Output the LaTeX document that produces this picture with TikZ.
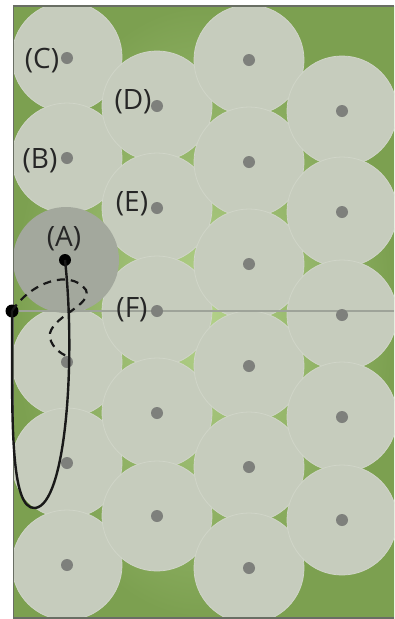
\documentclass[tikz,border=0pt]{standalone}
\usepackage{fontspec}
\setmainfont{Open Sans}
\definecolor{bgdark}{RGB}{124,160,80}
\definecolor{bglight}{RGB}{180,210,138}
\definecolor{cellfill}{RGB}{198,204,189}
\definecolor{celledge}{RGB}{208,213,200}
\definecolor{cellA}{RGB}{163,168,157}
\definecolor{dotgray}{RGB}{126,128,124}
\definecolor{framegray}{RGB}{105,110,100}
\definecolor{linegray}{RGB}{158,163,153}
\tikzset{
  cell/.style={circle, fill=cellfill, draw=celledge, line width=0.8pt, minimum size=110pt, inner sep=0pt},
  cellmain/.style={circle, fill=cellA, draw=none, minimum size=106pt, inner sep=0pt},
  site/.style={circle, fill=dotgray, minimum size=12pt, inner sep=0pt},
  sitemain/.style={circle, fill=black, minimum size=12pt, inner sep=0pt},
  anchorpt/.style={circle, fill=black, minimum size=13pt, inner sep=0pt},
  lab/.style={font=\fontsize{28}{32}\selectfont, text=black!85, inner sep=0pt},
  track/.style={line width=2.4pt, draw=black!90},
  dashtrack/.style={line width=2.2pt, draw=black!90, dash pattern=on 8pt off 6pt}
}
\begin{document}
\begin{tikzpicture}[x=1pt,y=-1pt]
\useasboundingbox (0,0) rectangle (394,619);
\fill[white] (0,0) rectangle (394,619);
\shade[inner color=bglight, outer color=bgdark] (13,6) rectangle (394,618);
% cells
\begin{scope}
\clip (13,6) rectangle (394,618);
\foreach \cx/\cy/\nm in {67/57/c1, 67/158/c2, 67/362/c4, 67/463/c5, 67/565/c6,
  157/106/c7, 157/208/c8, 157/311/c9, 157/413/c10, 157/516/c11,
  249/60/c12, 249/162/c13, 249/264/c14, 249/366/c15, 249/467/c16, 249/568/c17,
  342/111/c18, 342/212/c19, 342/315/c20, 342/417/c21, 342/520/c22}
  {\node[cell] (\nm) at (\cx,\cy) {};}
\node[cellmain] (cA) at (66,260) {};
\end{scope}
% frame lines
\draw[framegray, line width=2pt] (13,6) -- (394,6);
\draw[framegray, line width=1pt] (13,6) -- (13,618);
\draw[framegray, line width=1.5pt] (13,618) -- (394,618);
% horizontal line
\draw[linegray, line width=2pt] (13,311) -- (394,311);
% sites
\foreach \cx/\cy/\nm in {67/58/sC, 67/158/sB, 67/362/s4, 67/463/s5, 67/565/s6,
  157/106/sD, 157/208/sE, 157/311/sF, 157/413/s10, 157/516/s11,
  249/60/s12, 249/162/s13, 249/264/s14, 249/366/s15, 249/467/s16, 249/568/s17,
  342/111/s18, 342/212/s19, 342/315/s20, 342/417/s21, 342/520/s22}
  {\node[site] (\nm) at (\cx,\cy) {};}
\node[sitemain] (sA) at (65,260) {};
\node[anchorpt] (K) at (12,311) {};
% trajectories
\draw[track] (sA.center) .. controls (76,360) and (66,505) .. (35,508)
  .. controls (10,510) and (12,420) .. (K.center);
\draw[dashtrack] (K.center) .. controls (30,283) and (70,268) .. (86,290)
  .. controls (92,305) and (55,315) .. (50,333)
  .. controls (48,345) and (62,355) .. (s4.north);
% labels
\node[lab] (lC) at (42,61) {(C)};
\node[lab] (lD) at (133,102) {(D)};
\node[lab] (lB) at (40,161) {(B)};
\node[lab] (lE) at (132,204) {(E)};
\node[lab] (lA) at (64,239) {(A)};
\node[lab] (lF) at (132,310) {(F)};
\end{tikzpicture}
\end{document}
